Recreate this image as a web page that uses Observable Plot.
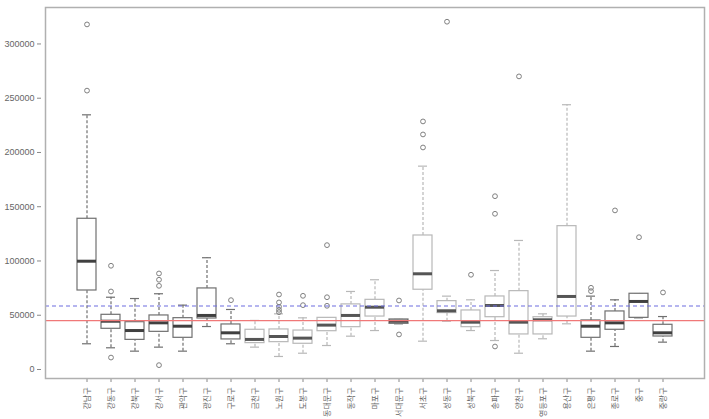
<!DOCTYPE html>
<html>
<head>
<meta charset="utf-8">
<script src="https://cdn.jsdelivr.net/npm/d3@7"></script>
<script src="https://cdn.jsdelivr.net/npm/@observablehq/plot@0.6"></script>
<style>
  html, body { margin: 0; padding: 0; background: #fff; }
  #chart { width: 709px; height: 419px; }
</style>
</head>
<body>
<div id="chart"></div>
<script>
// Seoul districts, in the order they are plotted
const districts = ["강남구","강동구","강북구","강서구","관악구","광진구","구로구","금천구","노원구","도봉구",
  "동대문구","동작구","마포구","서대문구","서초구","성동구","성북구","송파구","양천구","영등포구",
  "용산구","은평구","종로구","중구","중랑구"];

// Five-number summaries per district
const lowWhisker  = [23700, 20000, 16900, 20600, 16900, 39600, 23700, 20600, 12000, 15000,
  22100, 30700, 35900, 42100, 26100, 44500, 35900, 26700, 15000, 28300,
  42100, 16900, 21200, 47600, 25200];
const lowerQuartile = [72800, 37500, 27300, 34700, 29200, 47000, 27700, 24300, 25200, 23700,
  35300, 39000, 48800, 42100, 73500, 52000, 39000, 48200, 32300, 32300,
  48800, 29200, 36600, 47600, 30400];
const medianValue = [99800, 44500, 35900, 43000, 39900, 49800, 33800, 27700, 30400, 28900,
  40900, 49800, 57400, 44500, 88200, 54100, 43600, 59000, 43600, 45800,
  67300, 39900, 43000, 62700, 33800];
const upperQuartile = [138900, 50400, 43600, 49800, 47300, 74700, 41500, 36600, 36900, 35900,
  47600, 60000, 64200, 46100, 123500, 63000, 54400, 67300, 72200, 48200,
  132100, 45200, 53500, 69800, 41200];
const highWhisker = [234700, 66600, 65400, 69800, 59300, 103000, 55300, 45200, 51300, 47600,
  47600, 71900, 82700, 46100, 187400, 67600, 64200, 91200, 118900, 51300,
  244000, 67600, 64200, 69800, 48800];

// Points beyond the whiskers
const outlierDistrict = ["강남구","강남구","강동구","강동구","강동구","강서구","강서구","강서구","강서구",
  "구로구","노원구","노원구","노원구","노원구","노원구","도봉구","도봉구",
  "동대문구","동대문구","동대문구","서대문구","서대문구","서초구","서초구","서초구",
  "성동구","성북구","송파구","송파구","송파구","양천구","은평구","은평구","종로구","중구","중랑구"];
const outlierValue = [318000, 257000, 71900, 95600, 11000, 77100, 82700, 88500, 4000,
  63900, 52800, 55000, 57800, 61800, 69100, 59300, 67900,
  58700, 66600, 114600, 63600, 32300, 204600, 216600, 228600,
  320500, 87300, 143500, 159700, 21200, 270100, 72200, 75300, 146600, 121900, 71000];

// Reference levels
const redLevel = [45000];
const blueLevel = [58500];
const yTicks = [0, 50000, 100000, 150000, 200000, 250000, 300000];

const boxes = districts.map((district, i) => ({
  district,
  lo: lowWhisker[i], q1: lowerQuartile[i], med: medianValue[i], q3: upperQuartile[i], hi: highWhisker[i]
}));
const outliers = outlierDistrict.map((district, i) => ({district, value: outlierValue[i]}));

// districts whose boxes are drawn in a lighter tone
const faint = new Set(["금천구","노원구","도봉구","동대문구","동작구","마포구","서초구","성동구",
  "성북구","송파구","양천구","영등포구","용산구"]);
const lineColor = d => faint.has(d.district) ? "#b8b8b8" : "#707070";
const medColor = d => faint.has(d.district) ? "#555555" : "#404040";

const chart = Plot.plot({
  width: 709,
  height: 419,
  marginLeft: 45,
  marginRight: 5,
  marginTop: 7,
  marginBottom: 41,
  style: {fontFamily: "'Liberation Sans', 'Noto Sans CJK KR', sans-serif", color: "#666", background: "#fff"},
  x: {type: "band", domain: districts, paddingInner: 0.2, paddingOuter: 1.1},
  y: {domain: [-8300, 333600]},
  marks: [
    // whiskers
    Plot.ruleX(boxes, {x: "district", y1: "q3", y2: "hi", stroke: lineColor, strokeWidth: 1.2, strokeDasharray: "3,2"}),
    Plot.ruleX(boxes, {x: "district", y1: "lo", y2: "q1", stroke: lineColor, strokeWidth: 1.2, strokeDasharray: "3,2"}),
    // staples
    Plot.tickY(boxes, {x: "district", y: "hi", stroke: lineColor, strokeWidth: 1.2, insetLeft: 5, insetRight: 5}),
    Plot.tickY(boxes, {x: "district", y: "lo", stroke: lineColor, strokeWidth: 1.2, insetLeft: 5, insetRight: 5}),
    // boxes
    Plot.barY(boxes, {x: "district", y1: "q1", y2: "q3", fill: "white", stroke: lineColor, strokeWidth: 1.2}),
    // medians
    Plot.tickY(boxes, {x: "district", y: "med", stroke: medColor, strokeWidth: 3}),
    // outliers
    Plot.dot(outliers, {x: "district", y: "value", r: 2.4, stroke: "#808080", strokeWidth: 1}),
    // reference lines
    Plot.ruleY(redLevel, {stroke: "#f07878", strokeWidth: 1.2}),
    Plot.ruleY(blueLevel, {stroke: "#6c6ce0", strokeWidth: 1.2, strokeDasharray: "4,3"}),
    // axes
    Plot.axisY({ticks: yTicks, tickFormat: d => String(d), tickSize: 4, dx: -4, tickPadding: 3, fontSize: 9, label: null, stroke: "#888"}),
    Plot.axisX({tickRotate: -90, tickSize: 4, tickPadding: 5, fontSize: 8, label: null, stroke: "#888",
      fontFamily: "'Noto Sans CJK KR', sans-serif"}),
    Plot.frame({stroke: "#b0b0b0", strokeWidth: 1.5})
  ]
});
document.getElementById("chart").appendChild(chart);
</script>
</body>
</html>
